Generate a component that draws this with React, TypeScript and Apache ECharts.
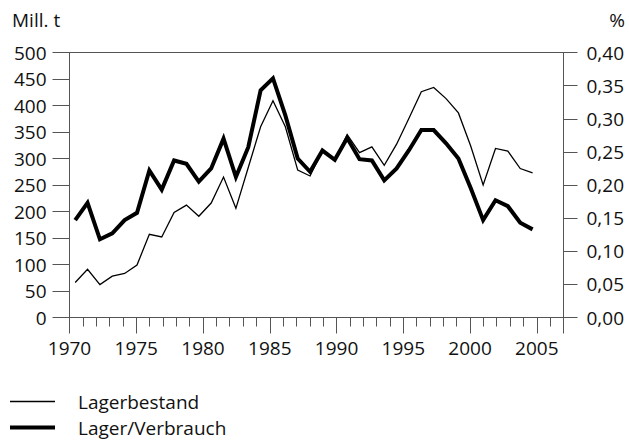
import React, { useEffect, useRef } from "react";
import * as echarts from "echarts";

const years = [
  1970, 1971, 1972, 1973, 1974, 1975, 1976, 1977, 1978, 1979,
  1980, 1981, 1982, 1983, 1984, 1985, 1986, 1987, 1988, 1989,
  1990, 1991, 1992, 1993, 1994, 1995, 1996, 1997, 1998, 1999,
  2000, 2001, 2002, 2003, 2004, 2005, 2006, 2007,
];
const lagerbestand = [
  66, 91, 62, 78, 83, 99, 157, 152, 198, 212,
  191, 216, 265, 206, 283, 360, 409, 360, 278, 267,
  315, 297, 345, 311, 322, 287, 327, 376, 426, 434,
  413, 386, 323, 250, 319, 314, 281, 273,
];
const lagerVerbrauch = [
  0.147, 0.173, 0.118, 0.127, 0.147, 0.158, 0.222, 0.193, 0.237, 0.232,
  0.205, 0.225, 0.27, 0.212, 0.257, 0.343, 0.361, 0.305, 0.24, 0.22,
  0.252, 0.238, 0.271, 0.239, 0.237, 0.207, 0.225, 0.2525, 0.283, 0.283,
  0.263, 0.24, 0.195, 0.147, 0.177, 0.168, 0.143, 0.133,
];
const seriesNames = ["Lagerbestand", "Lager/Verbrauch"];
const leftTitle = "Mill. t";
const rightTitle = "%";

const FONT = "'Open Sans', 'Noto Sans', sans-serif";
const AXIS = "#555";
const TXT = "#111";

const legendBase = {
  orient: "horizontal",
  left: 5,
  itemWidth: 45,
  icon: "rect",
  textStyle: {
    fontFamily: FONT,
    fontSize: 19,
    lineHeight: 19,
    color: TXT,
    padding: [0, 0, 0, 18],
  },
};

export default function App() {
  const ref = useRef<HTMLDivElement>(null);
  useEffect(() => {
    if (!ref.current) return;
    const chart = echarts.init(ref.current, null, { renderer: "svg" });
    chart.setOption({
      animation: false,
      textStyle: { fontFamily: FONT, color: TXT },
      grid: {
        left: 69.5,
        right: 65.5,
        top: 52.5,
        bottom: 124.5,
        show: true,
        borderColor: AXIS,
        borderWidth: 1,
      },
      legend: [
        { ...legendBase, top: 387, itemHeight: 1.3, data: [seriesNames[0]] },
        { ...legendBase, top: 413, itemHeight: 4, data: [seriesNames[1]] },
      ],
      xAxis: [
        {
          type: "value",
          min: 1970,
          max: 2007,
          interval: 1,
          axisLine: { show: true, lineStyle: { color: AXIS, width: 1 } },
          axisTick: { show: true, length: 9, lineStyle: { color: AXIS } },
          splitLine: { show: false },
          axisLabel: {
            margin: 21,
            fontSize: 19,
            fontFamily: FONT,
            color: TXT,
            formatter: (v: number) => (v % 5 === 0 && v <= 2005 ? String(v) : ""),
          },
        },
        {
          type: "value",
          min: 1970,
          max: 2007,
          interval: 5,
          position: "bottom",
          axisLine: { show: false },
          axisTick: { show: true, length: 16, lineStyle: { color: AXIS } },
          axisLabel: { show: false },
          splitLine: { show: false },
        },
        {
          type: "value",
          min: 1969.54,
          max: 2009.5,
          show: false,
          splitLine: { show: false },
        },
      ],
      yAxis: [
        {
          type: "value",
          min: 0,
          max: 500,
          interval: 50,
          position: "left",
          axisLine: { show: true, lineStyle: { color: AXIS, width: 1 } },
          axisTick: { show: true, length: 17, lineStyle: { color: AXIS } },
          splitLine: { show: false },
          axisLabel: { margin: 23, fontSize: 19, fontFamily: FONT, color: TXT },
        },
        {
          type: "value",
          min: 0,
          max: 0.4,
          interval: 0.05,
          position: "right",
          axisLine: { show: true, lineStyle: { color: AXIS, width: 1 } },
          axisTick: { show: true, length: 14, lineStyle: { color: AXIS } },
          splitLine: { show: false },
          axisLabel: {
            margin: 23,
            fontSize: 19,
            fontFamily: FONT,
            color: TXT,
            formatter: (v: number) => v.toFixed(2).replace(".", ","),
          },
        },
      ],
      graphic: [
        {
          type: "text",
          left: 12,
          top: 10,
          style: { text: leftTitle, font: `19px ${FONT}`, fill: TXT },
        },
        {
          type: "text",
          right: 4,
          top: 10,
          style: { text: rightTitle, font: `19px ${FONT}`, fill: TXT },
        },
      ],
      series: [
        {
          name: seriesNames[0],
          type: "line",
          xAxisIndex: 2,
          yAxisIndex: 0,
          symbol: "none",
          lineStyle: { color: "#000", width: 1.3, join: "miter" },
          itemStyle: { color: "#000" },
          data: years.map((y, i) => [y, lagerbestand[i]]),
          z: 3,
        },
        {
          name: seriesNames[1],
          type: "line",
          xAxisIndex: 2,
          yAxisIndex: 1,
          symbol: "none",
          lineStyle: { color: "#000", width: 4, join: "miter" },
          itemStyle: { color: "#000" },
          data: years.map((y, i) => [y, lagerVerbrauch[i]]),
          z: 2,
        },
      ],
    });
    return () => chart.dispose();
  }, []);
  return <div ref={ref} style={{ width: 629, height: 442, position: "absolute", left: 0, top: 0 }} />;
}
